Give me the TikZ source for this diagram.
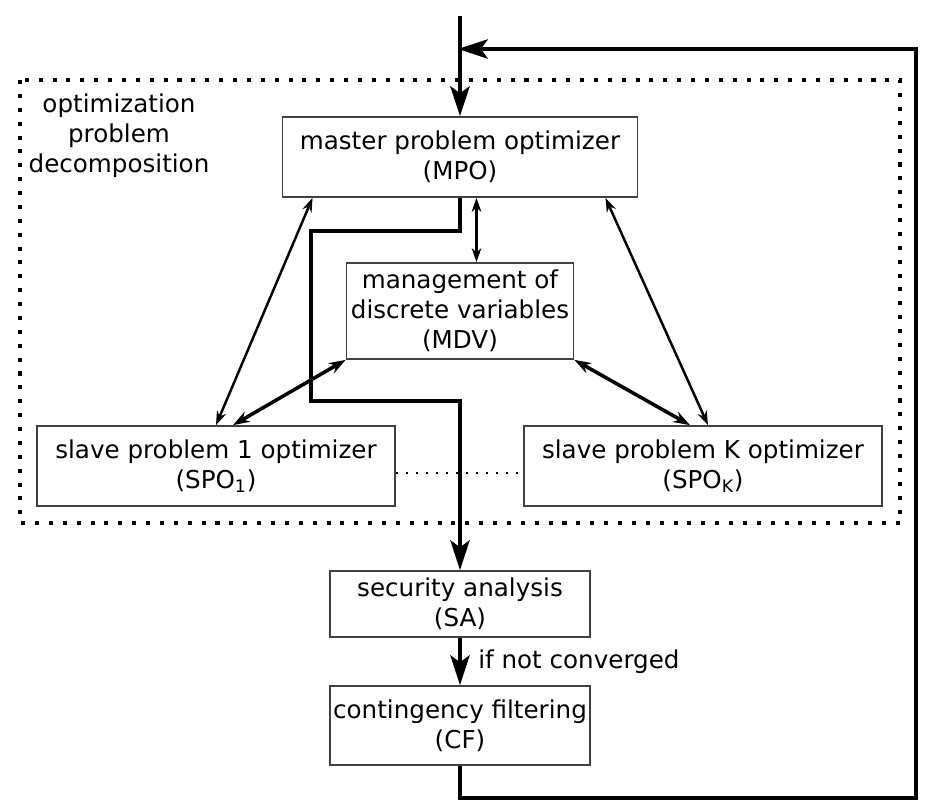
\documentclass[tikz,border=0pt]{standalone}
\usepackage{fontspec}
\setmainfont{DejaVu Sans}
\usetikzlibrary{arrows.meta}

\begin{document}
\begin{tikzpicture}[x=0.02cm,y=-0.02cm,
  box/.style={draw=black!75,line width=1pt,align=center,inner sep=0pt,font=\fontsize{14}{17}\selectfont},
  flow/.style={line width=2.1pt,-{Stealth[length=17pt,width=11pt,inset=4pt]}},
  link/.style={line width=1.4pt,{Stealth[length=8pt,width=5.5pt]}-{Stealth[length=8pt,width=5.5pt]}},
  biglink/.style={line width=2pt,{Stealth[length=9.5pt,width=6.5pt]}-{Stealth[length=9.5pt,width=6.5pt]}},
  frame/.style={line width=2.3pt,dash pattern=on 2.3pt off 5.6pt}]
\useasboundingbox (0,0) rectangle (939,809);

% dotted frame round the decomposition
\draw[frame] (20,80) rectangle (900,523);
\node[align=center,anchor=north,font=\fontsize{14}{17}\selectfont] (dec) at (119,88) {optimization\\problem\\decomposition};

\node[box,minimum width=7.1cm,minimum height=1.6cm] (mpo) at (460,157) {master problem optimizer\\(MPO)};
\node[box,minimum width=4.54cm,minimum height=1.92cm] (mdv) at (460,311) {management of\\discrete variables\\(MDV)};
\node[box,minimum width=7.16cm,minimum height=1.6cm] (spo1) at (216,466) {slave problem 1 optimizer\\(SPO\textsubscript{1})};
\node[box,minimum width=7.16cm,minimum height=1.6cm] (spok) at (703,466) {slave problem K optimizer\\(SPO\textsubscript{K})};
\node[box,minimum width=5.2cm,minimum height=1.32cm] (sa) at (460,604) {security analysis\\(SA)};
\node[box,minimum width=5.2cm,minimum height=1.58cm] (cf) at (460,725.5) {contingency filtering\\(CF)};

\coordinate (in) at (460,16);
\coordinate (back) at (458,49);

% main loop
\draw[flow] (in) -- (mpo.north);
\draw[flow] (mpo.south) -- ++(0,33) -| (311,401) -| (sa.north);
\draw[flow] (sa) -- (cf) node[midway,right,xshift=6pt,font=\fontsize{14}{17}\selectfont] {if not converged};
\draw[flow] (cf.south) |- (916,798) |- (back);

% exchanges inside the decomposition
\draw[link] ([xshift=0.33cm]mpo.south) -- ([xshift=0.33cm]mdv.north);
\draw[link] ([xshift=-2.95cm]mpo.south) -- (spo1.north);
\draw[link] ([xshift=2.91cm]mpo.south) -- ([xshift=0.1cm]spok.north);
\draw[biglink] (mdv.south west) -- ([xshift=0.34cm]spo1.north);
\draw[biglink] (mdv.south east) -- ([xshift=-0.26cm]spok.north);
\draw[line width=1.3pt,dash pattern=on 1.3pt off 4.4pt] ([yshift=-4pt]spo1.east) -- ([yshift=-4pt]spok.west);
\end{tikzpicture}
\end{document}
